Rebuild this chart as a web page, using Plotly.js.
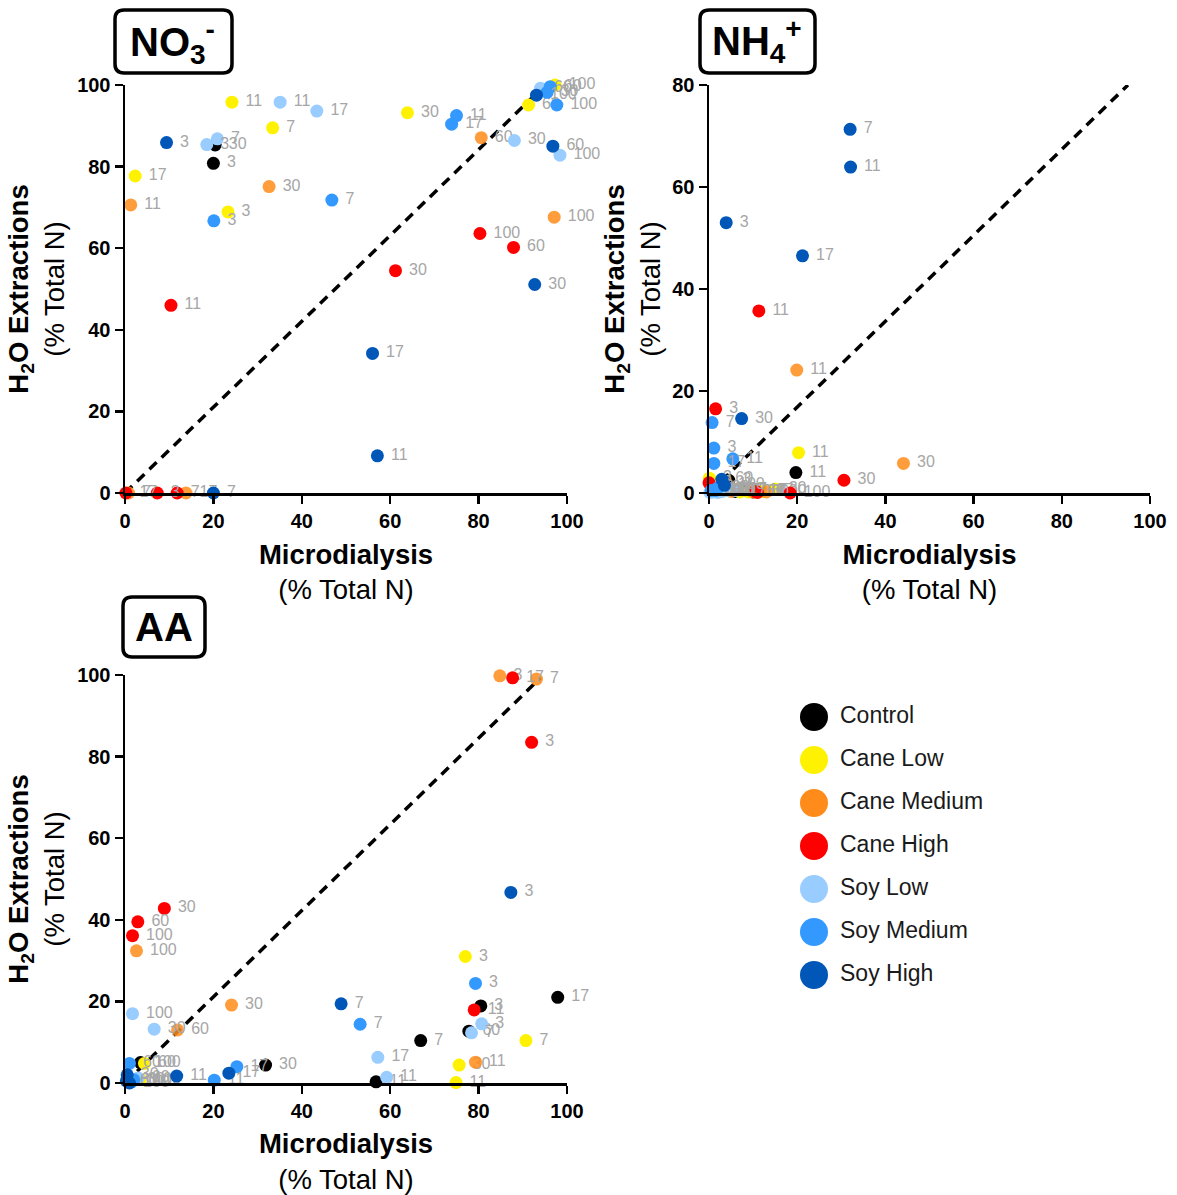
<!DOCTYPE html>
<html>
<head>
<meta charset="utf-8">
<script src="https://cdn.plot.ly/plotly-3.0.1.min.js"></script>
<style>
  html, body { margin: 0; padding: 0; background: #fff; }
  #chart { width: 1177px; height: 1195px; }
</style>
</head>
<body>
<div id="chart"></div>
<script>
// Treatment groups and their colours
const groups = ['Control', 'Cane Low', 'Cane Medium', 'Cane High', 'Soy Low', 'Soy Medium', 'Soy High'];
const groupColors = ['#000000', '#fff200', '#ff8c1a', '#ff0000', '#99ccff', '#3399ff', '#0057b7'];

// NO3- : group index, microdialysis %, H2O extraction %, day label
const no3Group = [0, 0,
  1, 1, 1, 1, 1, 1, 1,
  2, 2, 2, 2, 2, 2,
  3, 3, 3, 3, 3, 3, 3,
  4, 4, 4, 4, 4, 4, 4,
  5, 5, 5, 5, 5, 5, 5,
  6, 6, 6, 6, 6, 6, 6];
const no3X = [20, 20.4,
  23.3, 33.4, 24.2, 2.3, 63.9, 91.3, 97.3,
  0.8, 13.8, 1.3, 32.6, 80.6, 97.1,
  7.3, 11.8, 10.4, 0.2, 61.2, 87.9, 80.3,
  18.5, 20.9, 35.1, 43.4, 88.1, 94, 98.4,
  20.1, 46.8, 75, 73.9, 95.5, 96.2, 97.7,
  9.4, 20, 57.1, 56, 92.7, 96.8, 93.1];
const no3Y = [80.8, 85.3,
  68.9, 89.5, 95.8, 77.7, 93.2, 95.1, 100,
  0, 0, 70.6, 75.1, 87.1, 67.6,
  0, 0, 46, 0, 54.5, 60.2, 63.6,
  85.4, 86.8, 95.8, 93.6, 86.4, 99.2, 82.8,
  66.7, 71.8, 92.5, 90.4, 98.2, 99.6, 95.1,
  85.9, 0, 9.1, 34.2, 51.1, 85, 97.5];
const no3Day = ['3', '30',
  '3', '7', '11', '17', '30', '60', '100',
  '7', '17', '11', '30', '60', '100',
  '3', '7', '11', '17', '30', '60', '100',
  '3', '7', '11', '17', '30', '60', '100',
  '3', '7', '11', '17', '30', '60', '100',
  '3', '7', '11', '17', '30', '60', '100'];

// NH4+
const nh4Group = [0, 0, 0, 0, 0,
  1, 1, 1, 1, 1, 1, 1,
  2, 2, 2, 2, 2, 2,
  3, 3, 3, 3, 3, 3, 3,
  4, 4, 4, 4, 4, 4, 4,
  5, 5, 5, 5, 5, 5, 5,
  6, 6, 6, 6, 6, 6, 6];
const nh4X = [4.5, 8, 19.7, 10, 6,
  0.1, 2, 20.3, 12, 15, 9, 7,
  0.5, 19.9, 5, 44.1, 10, 13,
  1.5, 0, 11.3, 10.5, 30.6, 11, 18.4,
  0.5, 1, 4, 6, 3, 2, 0.2,
  1.1, 0.7, 5.4, 1.1, 2, 0.5, 1.5,
  3.9, 32, 32.1, 21.2, 7.4, 2.9, 3.5];
const nh4Y = [2.5, 0.5, 4.0, 0.2, 0.3,
  2.9, 0.3, 7.9, 0.3, 0.8, 0.2, 0.2,
  1.2, 24.1, 0.3, 5.8, 0.2, 0.2,
  16.5, 2.0, 35.7, 0.3, 2.5, 0.1, 0,
  0.3, 0.2, 0.5, 0.5, 0.3, 0.1, 0.1,
  8.8, 13.8, 6.7, 5.8, 1, 0.5, 0.5,
  53, 71.3, 63.9, 46.5, 14.6, 2.7, 1.5];
const nh4Day = ['3', '7', '11', '17', '30',
  '3', '7', '11', '17', '30', '60', '100',
  '3', '11', '17', '30', '60', '100',
  '3', '7', '11', '17', '30', '60', '100',
  '3', '7', '11', '17', '30', '60', '100',
  '3', '7', '11', '17', '30', '60', '100',
  '3', '7', '11', '17', '30', '60', '100'];

// Amino acids
const aaGroup = [0, 0, 0, 0, 0, 0, 0,
  1, 1, 1, 1, 1, 1, 1,
  2, 2, 2, 2, 2, 2, 2,
  3, 3, 3, 3, 3, 3, 3,
  4, 4, 4, 4, 4, 4, 4,
  5, 5, 5, 5, 5, 5, 5,
  6, 6, 6, 6, 6, 6, 6];
const aaX = [80.5, 66.9, 56.8, 97.9, 31.8, 77.8, 3.5,
  77, 90.7, 74.9, 100.2, 75.6, 4.4, 3.5,
  84.8, 93.1, 79.3, 100.2, 24.1, 11.9, 2.6,
  92, 100.2, 79, 87.7, 8.9, 2.9, 1.7,
  80.7, 78.4, 59.2, 57.2, 6.6, 3, 1.7,
  79.3, 53.2, 20.2, 25.3, 2, 1.0, 1.5,
  87.3, 48.9, 11.7, 23.5, 0.5, 0.3, 1];
const aaY = [18.9, 10.4, 0.3, 21, 4.4, 12.7, 5.0,
  31, 10.4, 0.1, 20.9, 4.4, 4.8, 0.8,
  99.8, 99, 5.1, 99.4, 19.1, 13, 32.4,
  83.5, 98, 17.9, 99.3, 42.8, 39.5, 36.1,
  14.5, 12.3, 1.4, 6.3, 13.2, 1.2, 17,
  24.4, 14.4, 0.7, 4.0, 0.8, 4.8, 0.3,
  46.7, 19.4, 1.7, 2.4, 2.0, 0.5, 0];
const aaDay = ['3', '7', '11', '17', '30', '60', '100',
  '3', '7', '11', '17', '30', '60', '100',
  '3', '7', '11', '17', '30', '60', '100',
  '3', '7', '11', '17', '30', '60', '100',
  '3', '7', '11', '17', '30', '60', '100',
  '3', '7', '11', '17', '30', '60', '100',
  '3', '7', '11', '17', '30', '60', '100'];

// Reference (dashed) line end points for each panel
const diagNo3X = [0, 94.6], diagNo3Y = [0, 99.5];
const diagNh4X = [0, 95], diagNh4Y = [0, 80];
const diagAaX = [0, 94], diagAaY = [0, 99.3];

const tickVals100 = [0, 20, 40, 60, 80, 100];
const tickVals80 = [0, 20, 40, 60, 80];

// ---- layout helpers (pixel -> paper) ----
const W = 1177, H = 1195;
const px = v => v / W;
const py = v => 1 - v / H;

function roundedBox(x0, y0, x1, y1, r) {
  const P = (x, y) => px(x).toFixed(5) + ',' + py(y).toFixed(5);
  return 'M' + P(x0 + r, y0) + ' L' + P(x1 - r, y0) + ' Q' + P(x1, y0) + ' ' + P(x1, y0 + r) +
    ' L' + P(x1, y1 - r) + ' Q' + P(x1, y1) + ' ' + P(x1 - r, y1) +
    ' L' + P(x0 + r, y1) + ' Q' + P(x0, y1) + ' ' + P(x0, y1 - r) +
    ' L' + P(x0, y0 + r) + ' Q' + P(x0, y0) + ' ' + P(x0 + r, y0) + ' Z';
}

const FONT = 'Liberation Sans, Arial, sans-serif';
const traces = [];

function addPanel(gArr, xArr, yArr, dArr, diagX, diagY, xa, ya) {
  traces.push({
    x: diagX, y: diagY, xaxis: xa, yaxis: ya, mode: 'lines', type: 'scatter',
    line: { color: '#000', width: 3.5, dash: '10px,7px' }, hoverinfo: 'skip', showlegend: false
  });
  groups.forEach((name, gi) => {
    const xs = [], ys = [], ts = [];
    gArr.forEach((g, i) => { if (g === gi) { xs.push(xArr[i]); ys.push(yArr[i]); ts.push(dArr[i]); } });
    traces.push({
      x: xs, y: ys, text: ts, xaxis: xa, yaxis: ya, type: 'scatter', mode: 'markers+text',
      name: name, showlegend: false, cliponaxis: false,
      marker: { color: groupColors[gi], size: 13, opacity: gi === 2 ? 0.85 : 1 },
      texttemplate: '\u00a0%{text}',
      textposition: 'middle right',
      textfont: { family: FONT, size: 16, color: '#a6a6a6' }
    });
  });
}

addPanel(no3Group, no3X, no3Y, no3Day, diagNo3X, diagNo3Y, 'x', 'y');
addPanel(nh4Group, nh4X, nh4Y, nh4Day, diagNh4X, diagNh4Y, 'x2', 'y2');
addPanel(aaGroup, aaX, aaY, aaDay, diagAaX, diagAaY, 'x3', 'y3');

// Legend drawn on its own hidden axes
const legendIdx = groups.map((_, i) => i);
traces.push({
  x: groups.map(() => 14), y: legendIdx, xaxis: 'x4', yaxis: 'y4', type: 'scatter', mode: 'markers',
  marker: { color: groupColors, size: 28 }, showlegend: false, hoverinfo: 'skip', cliponaxis: false
});
traces.push({
  x: groups.map(() => 40), y: legendIdx, text: groups, xaxis: 'x4', yaxis: 'y4', type: 'scatter', mode: 'text',
  textposition: 'middle right', textfont: { family: FONT, size: 23, color: '#1a1a1a' },
  showlegend: false, hoverinfo: 'skip', cliponaxis: false
});

const TITLE_FONT = { family: FONT, size: 27.5, color: '#000' };

function axis(domain, range, tickvals, anchor, titleText, standoff) {
  return {
    domain: domain, range: range, anchor: anchor, tickvals: tickvals,
    showline: true, linecolor: '#000', linewidth: 2.5,
    ticks: 'outside', ticklen: 8, tickwidth: 2.5, tickcolor: '#000',
    showgrid: false, zeroline: false, fixedrange: true,
    tickfont: { family: FONT, size: 20, color: '#000', weight: 'bold' },
    title: { text: titleText, font: TITLE_FONT, standoff: standoff }
  };
}

const xTitle = '<b>Microdialysis</b><br>(% Total N)';
const yTitle = '<b>H<sub>2</sub>O Extractions</b><br>(% Total N)';

const layout = {
  width: W, height: H,
  margin: { l: 0, r: 0, t: 0, b: 0 },
  paper_bgcolor: '#fff', plot_bgcolor: 'rgba(0,0,0,0)',
  showlegend: false,
  xaxis: axis([px(125), px(567)], [0, 100], tickVals100, 'y', xTitle, 14),
  yaxis: axis([py(493), py(85)], [0, 100], tickVals100, 'x', yTitle, 5),
  xaxis2: axis([px(709), px(1150)], [0, 100], tickVals100, 'y2', xTitle, 14),
  yaxis2: axis([py(493), py(85)], [0, 80], tickVals80, 'x2', yTitle, 4),
  xaxis3: axis([px(125), px(567)], [0, 100], tickVals100, 'y3', xTitle, 14),
  yaxis3: axis([py(1083), py(675)], [0, 100], tickVals100, 'x3', yTitle, 5),
  xaxis4: { domain: [px(800), px(1000)], range: [0, 200], visible: false, fixedrange: true, anchor: 'y4' },
  yaxis4: { domain: [py(990), py(700)], range: [6.349, -0.395], visible: false, fixedrange: true, anchor: 'x4' },
  shapes: [
    { type: 'path', xref: 'paper', yref: 'paper', path: roundedBox(115, 10, 232, 73, 9), line: { color: '#000', width: 3.5 }, fillcolor: '#fff' },
    { type: 'path', xref: 'paper', yref: 'paper', path: roundedBox(700, 10, 815, 73, 9), line: { color: '#000', width: 3.5 }, fillcolor: '#fff' },
    { type: 'path', xref: 'paper', yref: 'paper', path: roundedBox(123, 597, 205, 657, 9), line: { color: '#000', width: 3.5 }, fillcolor: '#fff' }
  ],
  annotations: [
    { xref: 'paper', yref: 'paper', x: px(172), y: py(42), xanchor: 'center', yanchor: 'middle', showarrow: false,
      text: '<b>NO<sub>3</sub><sup>-</sup></b>', font: { family: FONT, size: 40, color: '#000' } },
    { xref: 'paper', yref: 'paper', x: px(757), y: py(41), xanchor: 'center', yanchor: 'middle', showarrow: false,
      text: '<b>NH<sub>4</sub><sup>+</sup></b>', font: { family: FONT, size: 40, color: '#000' } },
    { xref: 'paper', yref: 'paper', x: px(164), y: py(627), xanchor: 'center', yanchor: 'middle', showarrow: false,
      text: '<b>AA</b>', font: { family: FONT, size: 40, color: '#000' } }
  ]
};

Plotly.newPlot('chart', traces, layout, { staticPlot: true, displayModeBar: false });
</script>
</body>
</html>
